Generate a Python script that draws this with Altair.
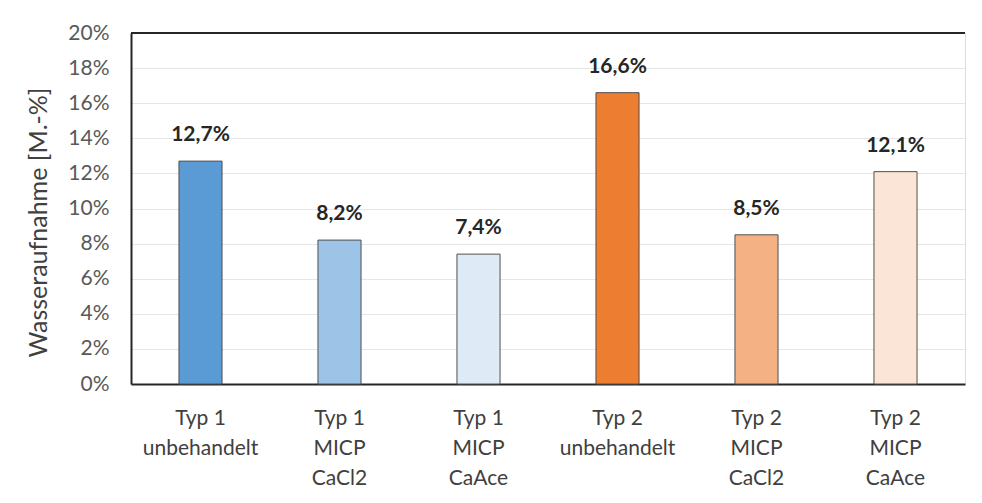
import altair as alt
import pandas as pd

categories = ["Typ 1|unbehandelt", "Typ 1|MICP|CaCl2", "Typ 1|MICP|CaAce",
              "Typ 2|unbehandelt", "Typ 2|MICP|CaCl2", "Typ 2|MICP|CaAce"]
values = [0.127, 0.082, 0.074, 0.166, 0.085, 0.121]
colors = ["#5B9BD5", "#9DC3E6", "#DEEBF7", "#ED7D31", "#F4B183", "#FBE5D6"]
y_ticks = [0.0, 0.02, 0.04, 0.06, 0.08, 0.10, 0.12, 0.14, 0.16, 0.18, 0.20]

df = pd.DataFrame({
    "cat": categories,
    "val": values,
    "label": [f"{v*100:.1f}%".replace(".", ",") for v in values],
})

FONT = "Lato"

x = alt.X("cat:N", sort=categories, title=None,
          scale=alt.Scale(paddingInner=0.69, paddingOuter=0.345),
          axis=alt.Axis(labelExpr="split(datum.label, '|')", labelAngle=0,
                        labelFontSize=21, labelColor="#404040", labelFont=FONT,
                        labelLineHeight=30, labelPadding=34, labelBaseline="middle",
                        ticks=False, domainColor="#262626", domainWidth=2,
                        labelBound=False, labelOverlap=False))
y = alt.Y("val:Q", title="Wasseraufnahme [M.-%]",
          scale=alt.Scale(domain=[0, 0.20], nice=False),
          axis=alt.Axis(format=".0%", values=y_ticks, tickCount=11, ticks=False,
                        labelFontSize=21, labelColor="#595959", labelFont=FONT,
                        labelPadding=22, domainColor="#262626", domainWidth=2,
                        gridColor="#E6E6E6", gridWidth=1, labelOverlap=False,
                        titleFontSize=25, titleFont=FONT, titleColor="#404040",
                        titleFontWeight="normal", titlePadding=16, titleY=189))

bars = alt.Chart(df).mark_bar(stroke="#505050", strokeWidth=1).encode(
    x=x, y=y,
    color=alt.Color("cat:N", sort=categories,
                    scale=alt.Scale(domain=categories, range=colors), legend=None),
)

text = alt.Chart(df).mark_text(baseline="bottom", dy=-16, fontSize=21,
                               fontWeight="bold", font=FONT, color="#262626").encode(
    x=alt.X("cat:N", sort=categories), y="val:Q", text="label:N")

top = alt.Chart(df).mark_rule(color="#262626", strokeWidth=2).encode(
    y=alt.datum(0.20))

chart = alt.layer(bars, text, top).properties(
    width=834, height=351,
    autosize=alt.AutoSizeParams(type="none"),
    padding={"left": 123, "top": 25, "right": 9, "bottom": 110},
).configure_view(stroke="#D9D9D9", strokeWidth=1).configure(background="white")

chart.save("out.html", embed_options={"renderer": "svg", "actions": False})
